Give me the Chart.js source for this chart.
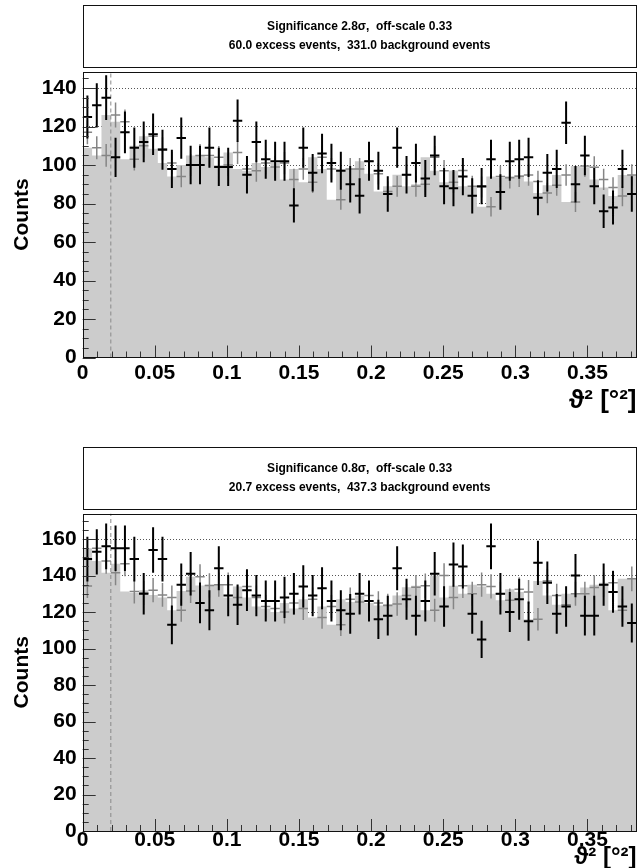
<!DOCTYPE html>
<html>
<head>
<meta charset="utf-8">
<script src="https://cdn.jsdelivr.net/npm/chart.js@4.4.0/dist/chart.umd.min.js"></script>
<style>
  html, body { margin: 0; padding: 0; background: #fff; overflow: hidden; }
  #page { position: relative; width: 640px; height: 868px; overflow: hidden; }
  .pad { position: absolute; left: 0; width: 640px; }
</style>
</head>
<body>
<div id="page">
  <div class="pad" style="top:0"><canvas id="panelTop" width="640" height="434"></canvas></div>
  <div class="pad" style="top:434px"><canvas id="panelBottom" width="640" height="446"></canvas></div>
</div>
<script>
// theta^2 histogram range and binning
const thetaMax = 0.384;
const binCount = 59;
const cutTheta2 = 0.0195;
const offScale = 0.33;

const xTickValues = [0, 0.05, 0.1, 0.15, 0.2, 0.25, 0.3, 0.35];
const yTickValuesTop = [0, 20, 40, 60, 80, 100, 120, 140];
const yTickValuesBottom = [0, 20, 40, 60, 80, 100, 120, 140, 160];
const yMaxTop = 148.6;
const yMaxBottom = 174;

const titleTop = ['Significance 2.8\u03c3,  off-scale 0.33', '60.0 excess events,  331.0 background events'];
const titleBottom = ['Significance 0.8\u03c3,  off-scale 0.33', '20.7 excess events,  437.3 background events'];
const xTitle = '\u03d1\u00b2 [\u00b0\u00b2]';
const yTitle = 'Counts';

// on-source counts per bin
const onTop = [125, 131, 135, 104, 117, 109, 112, 116, 108, 98,
  114, 100, 100, 109, 99, 99, 123, 95, 112, 103,
  102, 102, 79, 109, 96, 106, 101, 97, 90, 84,
  102, 97, 85, 109, 95, 101, 93, 105, 89, 88,
  94, 84, 89, 103, 86, 102, 103, 104, 83, 96,
  98, 122, 90, 105, 89, 76, 78, 98, 85];
// scaled off-source counts per bin
const offTop = [117, 109, 105, 126, 122.5, 103, 110, 115, 108.5, 101,
  94, 100, 105, 105, 104, 100, 106.5, 98, 97, 101,
  99, 101, 92.5, 98, 91, 104, 98, 82, 98, 98,
  102, 95.5, 86.3, 89, 95, 89, 90, 104, 97, 91,
  97.2, 89, 88.6, 78.3, 94, 93.4, 94.2, 94.8, 91.5, 85.5,
  89.5, 94.8, 80.8, 99.5, 98.8, 92.5, 88.3, 83.9, 94.8];

const onBottom = [149, 153, 156, 155, 155, 149, 130, 154, 149, 113,
  135, 141, 125, 121, 144, 129, 124, 132, 129, 126,
  126, 128, 130, 134, 129, 133, 126, 121, 119, 130,
  126, 116, 118, 144, 127, 118, 126, 141, 123, 146,
  145, 119, 105, 156, 130, 120, 127, 115, 147, 136,
  119, 123, 140, 118, 118, 135, 131, 123, 114];
const offBottom = [134.3, 155, 148, 141.5, 146.5, 131.3, 130.4, 132, 129.4, 128,
  121, 131.5, 139.4, 134.6, 135, 135, 128, 134, 128, 123,
  122, 120, 125, 122, 127, 117, 123, 113, 127, 125.5,
  129, 125, 123.6, 124.4, 129, 133.6, 134.4, 121, 140, 128,
  134.4, 130, 135, 134, 130, 126.5, 132.5, 131, 116, 137,
  129, 124, 130, 130, 133.5, 135, 136, 121, 138.2];

const binWidth = thetaMax / binCount;

function binCenters(vals) {
  return vals.map((v, i) => ({ x: (i + 0.5) * binWidth, y: v }));
}

function binSteps(vals) {
  const pts = vals.map((v, i) => ({ x: i * binWidth, y: v }));
  pts.push({ x: thetaMax, y: vals[vals.length - 1] });
  return pts;
}

// horizontal bin-width bar plus vertical error bar at each point
const errorCrosses = {
  id: 'errorCrosses',
  afterDatasetDraw(chart, args) {
    const ds = chart.data.datasets[args.index];
    if (!ds.errors) return;
    const { ctx, chartArea: a, scales: { x, y } } = chart;
    const half = (x.getPixelForValue(binWidth) - x.getPixelForValue(0)) / 2;
    ctx.save();
    ctx.beginPath();
    ctx.rect(a.left, a.top, a.right - a.left, a.bottom - a.top);
    ctx.clip();
    ctx.strokeStyle = ds.borderColor;
    ctx.lineWidth = ds.borderWidth;
    ctx.beginPath();
    args.meta.data.forEach((pt, i) => {
      const v = ds.data[i].y;
      const e = ds.errors[i];
      ctx.moveTo(pt.x - half, pt.y);
      ctx.lineTo(pt.x + half, pt.y);
      ctx.moveTo(pt.x, y.getPixelForValue(v - e));
      ctx.lineTo(pt.x, y.getPixelForValue(v + e));
    });
    ctx.stroke();
    ctx.restore();
  }
};

// frame, inward ticks and the box around the title
const rootFrame = {
  id: 'rootFrame',
  afterDatasetsDraw(chart) {
    const { ctx, chartArea: a, scales: { x, y } } = chart;
    ctx.save();
    ctx.strokeStyle = '#333';
    ctx.lineWidth = 1;
    ctx.beginPath();
    for (let k = 0; k * 0.01 <= thetaMax + 1e-9; k++) {
      const px = Math.round(x.getPixelForValue(k * 0.01)) + 0.5;
      const len = k % 5 === 0 ? 12 : 6;
      ctx.moveTo(px, a.bottom);
      ctx.lineTo(px, a.bottom - len);
    }
    for (let v = 0; v <= y.max; v += 5) {
      const py = Math.round(y.getPixelForValue(v)) + 0.5;
      const len = v % 20 === 0 ? 13 : 6;
      ctx.moveTo(a.left, py);
      ctx.lineTo(a.left + len, py);
    }
    ctx.stroke();
    ctx.strokeStyle = '#111';
    ctx.strokeRect(Math.round(a.left) + 0.5, Math.round(a.top) + 0.5,
      Math.round(a.right - a.left) - 1, Math.round(a.bottom - a.top) - 1);
    const tb = chart.titleBlock;
    ctx.strokeRect(Math.round(a.left) + 0.5, Math.round(tb.top) + 0.5,
      Math.round(a.right - a.left) - 1, Math.round(a.top - 4.5 - tb.top));
    ctx.restore();
  }
};

Chart.defaults.font.family = "'Liberation Sans', Arial, sans-serif";
Chart.defaults.color = '#000';

function buildPanel(canvasId, title, onVals, offVals, yMax, yTicks, geo) {
  const labelFont = { size: 21, weight: 'bold' };
  return new Chart(document.getElementById(canvasId), {
    type: 'line',
    data: {
      datasets: [
        {
          label: 'ON',
          data: binCenters(onVals),
          errors: onVals.map(v => Math.sqrt(v)),
          showLine: false,
          pointRadius: 0,
          borderColor: '#000',
          borderWidth: 2
        },
        {
          label: 'OFF errors',
          data: binCenters(offVals),
          errors: offVals.map(v => Math.sqrt(v * offScale)),
          showLine: false,
          pointRadius: 0,
          borderColor: '#858585',
          borderWidth: 1.5
        },
        {
          label: 'cut',
          data: [{ x: cutTheta2, y: 0 }, { x: cutTheta2, y: yMax }],
          borderColor: '#8a8a8a',
          borderWidth: 1,
          borderDash: [4, 3],
          pointRadius: 0,
          fill: false
        },
        {
          label: 'OFF',
          data: binSteps(offVals),
          stepped: 'after',
          borderWidth: 0,
          borderColor: 'rgba(0,0,0,0)',
          backgroundColor: '#cccccc',
          pointRadius: 0,
          fill: 'origin'
        }
      ]
    },
    options: {
      responsive: false,
      animation: false,
      devicePixelRatio: 1,
      layout: { padding: { top: geo.padTop, left: 0, right: 3.5, bottom: 0 } },
      plugins: {
        legend: { display: false },
        tooltip: { enabled: false },
        title: {
          display: true,
          fullSize: false,
          text: title,
          color: '#000',
          font: { size: 12, weight: 'bold', lineHeight: '19px' },
          padding: { top: 12.5, bottom: 16 }
        }
      },
      scales: {
        x: {
          type: 'linear',
          min: 0,
          max: thetaMax,
          afterBuildTicks: s => { s.ticks = xTickValues.map(v => ({ value: v })); },
          afterFit: s => { s.height = geo.xAxisHeight; },
          grid: { display: false, drawTicks: false },
          border: { display: false },
          ticks: {
            autoSkip: false,
            maxRotation: 0,
            padding: geo.xLabelPad,
            color: '#000',
            font: labelFont,
            callback: v => String(+v.toFixed(2))
          },
          title: {
            display: true,
            text: xTitle,
            align: 'end',
            color: '#000',
            font: { size: geo.xTitleSize, weight: 'bold', lineHeight: 1.2 },
            padding: { top: 0, bottom: geo.xTitlePad }
          }
        },
        y: {
          min: 0,
          max: yMax,
          afterBuildTicks: s => { s.ticks = yTicks.map(v => ({ value: v })); },
          afterFit: s => { s.width = 82.7; },
          grid: { color: '#555', lineWidth: 1, drawTicks: false },
          border: { display: false, dash: [1, 2] },
          ticks: { autoSkip: false, padding: 6, color: '#000', font: labelFont },
          title: {
            display: true,
            text: yTitle,
            color: '#000',
            font: { size: 21, weight: 'bold', lineHeight: 1.2 },
            padding: { top: 9.5, bottom: 0 }
          }
        }
      }
    },
    plugins: [errorCrosses, rootFrame]
  });
}

buildPanel('panelTop', titleTop, onTop, offTop, yMaxTop, yTickValuesTop,
  { padTop: 5, xAxisHeight: 76.5, xLabelPad: 3, xTitleSize: 26, xTitlePad: 17.4 });
buildPanel('panelBottom', titleBottom, onBottom, offBottom, yMaxBottom, yTickValuesBottom,
  { padTop: 13, xAxisHeight: 49, xLabelPad: -3, xTitleSize: 24, xTitlePad: 7.9 });
</script>
</body>
</html>
